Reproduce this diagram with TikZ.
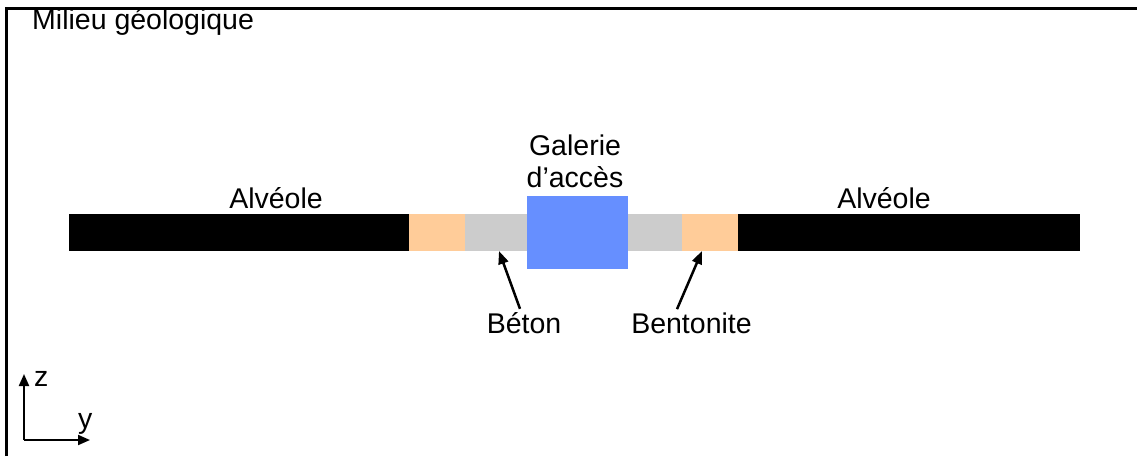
\documentclass[tikz,border=0pt]{standalone}
\usepackage{fontspec}
\setmainfont{Liberation Sans}
\usetikzlibrary{calc,arrows.meta}
\definecolor{bentonite}{RGB}{255,204,153}
\definecolor{beton}{RGB}{204,204,204}
\definecolor{galerie}{RGB}{102,143,255}
\begin{document}
\begin{tikzpicture}[x=1pt,y=-1pt,
  font=\fontsize{28.5}{33}\selectfont,
  seg/.style={draw=none, inner sep=0, outer sep=0, anchor=north west, minimum height=37},
  lbl/.style={inner sep=0, anchor=base},
  pointer/.style={-{Triangle[length=13pt,width=10pt]}, line width=2.5pt},
  axis/.style={-{Triangle[length=12pt,width=10pt]}, line width=2pt}]
\useasboundingbox (0,0) rectangle (1137,456);

% frame of the geological medium
\draw[line width=2.5pt] (6.5,456) -- (6.5,8.5) -- (1137,8.5);
\node[inner sep=0, anchor=base west] (milieu) at (32,29) {Milieu géologique};

% cells, plugs and access gallery
\node[seg, fill=black,     minimum width=340] (alvL)   at (69,214)  {};
\node[seg, fill=bentonite, minimum width=56]  (bentL)  at (409,214) {};
\node[seg, fill=beton,     minimum width=62]  (betonL) at (465,214) {};
\node[seg, fill=beton,     minimum width=54]  (betonR) at (628,214) {};
\node[seg, fill=bentonite, minimum width=56]  (bentR)  at (682,214) {};
\node[seg, fill=black,     minimum width=342] (alvR)   at (738,214) {};
\node[seg, fill=galerie,   minimum width=101, minimum height=73] (gal) at (527,196) {};

% labels
\node[lbl] (lblAlvL) at (276,208) {Alvéole};
\node[lbl] (lblAlvR) at (884,208) {Alvéole};
\node[lbl] (lblGal1) at (575,155) {Galerie};
\node[lbl] (lblGal2) at (575,187) {d’accès};
\node[lbl] (lblBeton) at (524,333) {Béton};
\node[lbl] (lblBent)  at (691.5,333) {Bentonite};

% pointers
\draw[pointer] ($(lblBeton.north)+(-4,-3)$) -- ($(betonL.south)+(3,0)$);
\draw[pointer] ($(lblBent.north)+(-14.5,-3)$) -- ($(bentR.south)+(-8,0)$);

% axes
\coordinate (o) at (24,440);
\coordinate (zt) at (24,374);
\coordinate (yt) at (90,440);
\draw[axis] (o) -- (zt);
\draw[axis] (o) -- (yt);
\node[inner sep=0, anchor=base west] (zl) at (34,386) {z};
\node[inner sep=0, anchor=base west] (yl) at (78,428) {y};
\end{tikzpicture}
\end{document}
